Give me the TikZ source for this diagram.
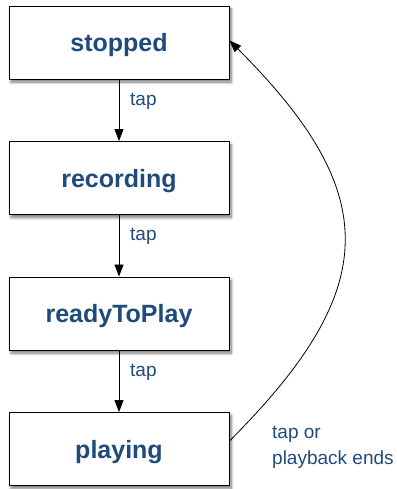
\documentclass[tikz,border=0pt]{standalone}
\usepackage{fontspec}
\setmainfont{Liberation Sans}
\usetikzlibrary{arrows.meta,shadows.blur}
\definecolor{txtblue}{HTML}{1E4A7C}
\begin{document}
\begin{tikzpicture}[x=1pt,y=-1pt,
  statebox/.style={draw=black,line width=0.9pt,fill=white,minimum width=220pt,minimum height=73pt,inner sep=0pt,
    text=txtblue,font=\bfseries\fontsize{25}{29}\selectfont,text depth=0pt,
    blur shadow={shadow xshift=2pt,shadow yshift=-3pt,shadow blur steps=8,shadow blur radius=3pt,shadow opacity=55}},
  edgelabel/.style={text=txtblue,font=\fontsize{19}{26}\selectfont,inner sep=0pt,anchor=west,align=left},
  conn/.style={line width=0.8pt,-{Triangle[length=12pt,width=9pt]}}]
\useasboundingbox (0,0) rectangle (396,489);
\node[statebox] (stopped) at (119,42.5) {stopped};
\node[statebox] (recording) at (119,178) {recording};
\node[statebox] (ready) at (119,313.5) {readyToPlay};
\node[statebox] (playing) at (119,449) {playing};
\draw[conn] (stopped) -- (recording);
\draw[conn] (recording) -- (ready);
\draw[conn] (ready) -- (playing);
\node[edgelabel] (l1) at (130,101) {tap};
\node[edgelabel] (l2) at (130,236.5) {tap};
\node[edgelabel] (l3) at (130,372) {tap};
\draw[conn] ([yshift=8pt]playing.east) .. controls +(153,-153) and +(153,153) .. ([yshift=2pt]stopped.east);
\node[edgelabel] (l4) at (272,447) {tap or\\playback ends};
\end{tikzpicture}
\end{document}
